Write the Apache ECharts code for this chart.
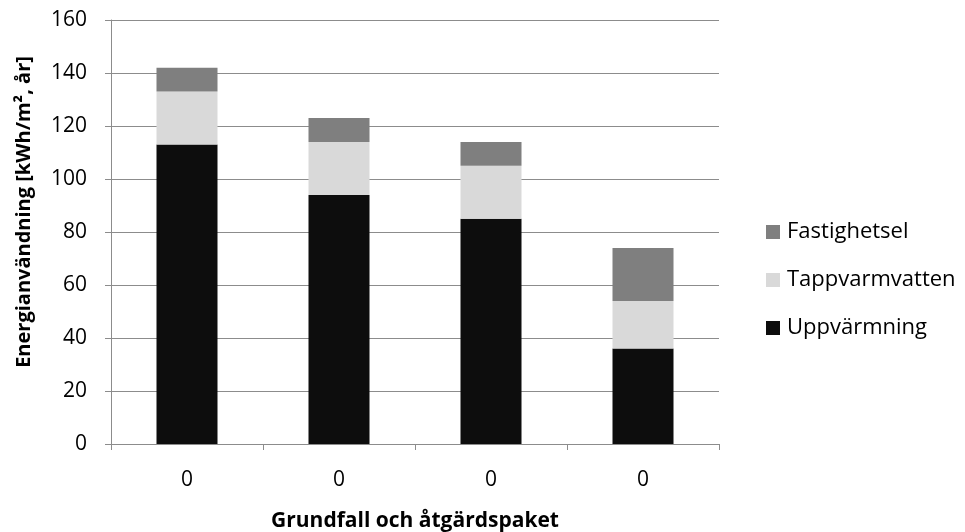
<!DOCTYPE html>
<html>
<head>
<meta charset="utf-8">
<script src="https://cdn.jsdelivr.net/npm/echarts@6/dist/echarts.min.js"></script>
<style>
  html, body { margin: 0; padding: 0; background: #ffffff; }
  #chart { width: 965px; height: 532px; }
</style>
</head>
<body>
<div id="chart"></div>
<script>
// Energy use per case, stacked by end use (kWh/m², år)
const categories = ['0', '0', '0', '0'];
const uppvarmning = [113, 94, 85, 36];
const tappvarmvatten = [20, 20, 20, 18];
const fastighetsel = [9, 9, 9, 20];

const yTicks = { min: 0, max: 160, interval: 20 };
const FONT = '"Open Sans", "DejaVu Sans", sans-serif';
const GRID_COLOR = '#8c8c8c';

const chart = echarts.init(document.getElementById('chart'), null, { renderer: 'canvas' });

function barSeries(name, data, color) {
  return {
    name: name,
    type: 'bar',
    stack: 'total',
    data: data,
    barWidth: 61,
    itemStyle: { color: color },
    emphasis: { disabled: true }
  };
}

chart.setOption({
  animation: false,
  backgroundColor: '#ffffff',
  textStyle: { fontFamily: FONT },
  grid: { left: 111, right: 246, top: 20, bottom: 88, containLabel: false, outerBoundsMode: 'none' },
  legend: {
    orient: 'vertical',
    left: 761,
    top: 212,
    itemWidth: 14,
    itemHeight: 14,
    itemGap: 18,
    icon: 'rect',
    data: ['Fastighetsel', 'Tappvarmvatten', 'Uppvärmning'],
    textStyle: { fontFamily: FONT, fontSize: 22, lineHeight: 30, color: '#000000', padding: [0, 0, 0, 2] }
  },
  xAxis: {
    type: 'category',
    data: categories,
    name: 'Grundfall och åtgärdspaket',
    nameLocation: 'middle',
    nameGap: 67,
    nameTextStyle: { fontFamily: FONT, fontSize: 21, fontWeight: 'bold', color: '#000000' },
    axisLine: { show: true, lineStyle: { color: GRID_COLOR, width: 1 } },
    axisTick: { show: true, length: 6, lineStyle: { color: GRID_COLOR } },
    axisLabel: { fontFamily: FONT, fontSize: 21, color: '#000000', margin: 26 },
    splitLine: { show: false }
  },
  yAxis: {
    type: 'value',
    min: yTicks.min,
    max: yTicks.max,
    interval: yTicks.interval,
    name: 'Energianvändning [kWh/m², år]',
    nameLocation: 'middle',
    nameGap: 77,
    nameTextStyle: { fontFamily: FONT, fontSize: 20, fontWeight: 'bold', color: '#000000', padding: [0, 0, 0, 40] },
    axisLine: { show: true, lineStyle: { color: GRID_COLOR, width: 1 } },
    axisTick: { show: true, length: 6, inside: false, lineStyle: { color: GRID_COLOR } },
    axisLabel: { fontFamily: FONT, fontSize: 21, color: '#000000', margin: 24 },
    splitLine: { show: true, lineStyle: { color: GRID_COLOR, width: 1 } }
  },
  series: [
    barSeries('Uppvärmning', uppvarmning, '#0d0d0d'),
    barSeries('Tappvarmvatten', tappvarmvatten, '#d9d9d9'),
    barSeries('Fastighetsel', fastighetsel, '#7f7f7f')
  ]
});
</script>
</body>
</html>
